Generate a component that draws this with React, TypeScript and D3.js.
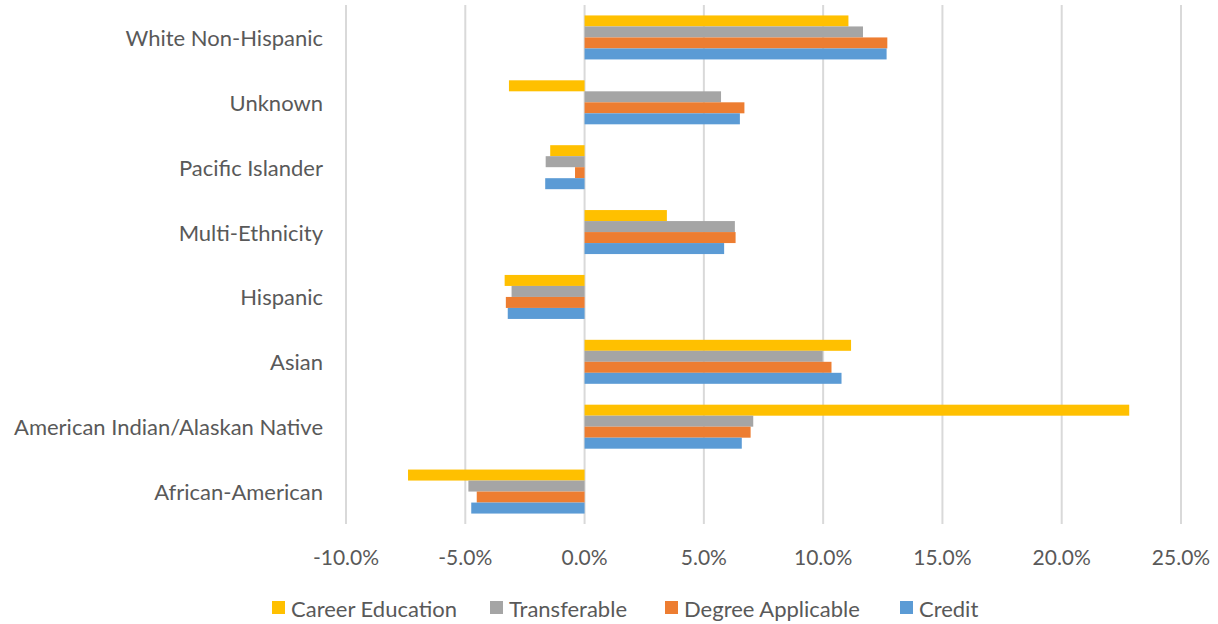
import React from "react";
import * as d3 from "d3";

const categories = [
  "White Non-Hispanic",
  "Unknown",
  "Pacific Islander",
  "Multi-Ethnicity",
  "Hispanic",
  "Asian",
  "American Indian/Alaskan Native",
  "African-American",
];

const seriesNames = ["Career Education", "Transferable", "Degree Applicable", "Credit"];
const seriesColors = ["#FFC000", "#A5A5A5", "#ED7D31", "#5B9BD5"];

const careerEducation = [0.1106, -0.0317, -0.0144, 0.0345, -0.0335, 0.1117, 0.2283, -0.074];
const transferable = [0.1167, 0.0572, -0.0163, 0.063, -0.0306, 0.0998, 0.0707, -0.0487];
const degreeApplicable = [0.1269, 0.067, -0.004, 0.0633, -0.033, 0.1035, 0.0696, -0.0452];
const credit = [0.1266, 0.0651, -0.0165, 0.0585, -0.0322, 0.1077, 0.0659, -0.0475];

const seriesValues = [careerEducation, transferable, degreeApplicable, credit];
const xTicks = [-0.1, -0.05, 0, 0.05, 0.1, 0.15, 0.2, 0.25];

const W = 1218;
const H = 624;
const FONT = "Lato, 'Open Sans', sans-serif";
const TXT = "#595959";

export default function App() {
  const x = d3.scaleLinear().domain([-0.1, 0.25]).range([346, 1181]);
  const y = d3.scaleBand<string>().domain(categories).range([5, 524]).padding(0);
  const barH = 11;
  const fmt = (t: number) => d3.format(".1%")(t).replace("\u2212", "-");

  const legendX = [272, 490, 665, 900];

  return (
    <svg
      width={W}
      height={H}
      style={{ position: "absolute", left: 0, top: 0, background: "#fff" }}
      fontFamily={FONT}
    >
      {xTicks.map((t) => (
        <line
          key={"g" + t}
          x1={x(t)}
          x2={x(t)}
          y1={5}
          y2={524}
          stroke="#D9D9D9"
          strokeWidth={2}
        />
      ))}
      {categories.map((c, ci) => {
        const cy = (y(c) as number) + y.bandwidth() / 2;
        const top = cy - (barH * seriesValues.length) / 2;
        return (
          <g key={c}>
            {seriesValues.map((vals, si) => {
              const v = vals[ci];
              const x0 = x(Math.min(0, v));
              const x1 = x(Math.max(0, v));
              return (
                <rect
                  key={si}
                  x={x0}
                  y={top + si * barH}
                  width={x1 - x0}
                  height={barH}
                  fill={seriesColors[si]}
                />
              );
            })}
            <text
              x={323}
              y={cy}
              textAnchor="end"
              dominantBaseline="central"
              fontSize={22}
              fill={TXT}
            >
              {c}
            </text>
          </g>
        );
      })}
      {xTicks.map((t) => (
        <text
          key={"t" + t}
          x={x(t)}
          y={556}
          textAnchor="middle"
          dominantBaseline="central"
          fontSize={21}
          fill={TXT}
        >
          {fmt(t)}
        </text>
      ))}
      {seriesNames.map((n, i) => (
        <g key={n}>
          <rect x={legendX[i]} y={601} width={13} height={13} fill={seriesColors[i]} />
          <text
            x={legendX[i] + 19}
            y={608}
            dominantBaseline="central"
            fontSize={22}
            fill={TXT}
          >
            {n}
          </text>
        </g>
      ))}
    </svg>
  );
}
